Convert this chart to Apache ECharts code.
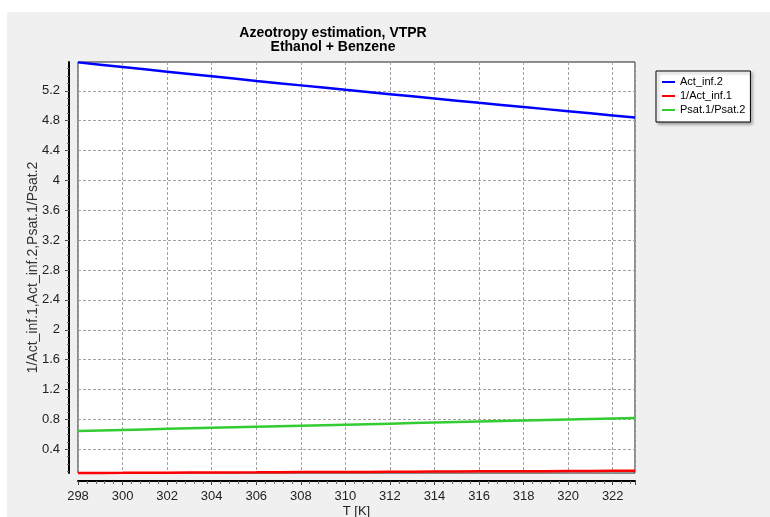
<!DOCTYPE html>
<html><head><meta charset="utf-8">
<script src="https://cdn.jsdelivr.net/npm/echarts@6/dist/echarts.min.js"></script>
<style>html,body{margin:0;padding:0;background:#fff}#c{width:770px;height:517px}</style>
</head><body><div id="c"></div>
<script>
// ---- data ----
const temperature = [298,299,300,301,302,303,304,305,306,307,308,309,310,311,312,313,314,315,316,317,318,319,320,321,322,323];
const actInf2 = [5.580,5.549,5.518,5.487,5.456,5.425,5.394,5.363,5.332,5.302,5.272,5.242,5.212,5.183,5.154,5.125,5.096,5.067,5.038,5.010,4.982,4.954,4.926,4.898,4.870,4.842];
const invActInf1 = [0.082,0.083,0.084,0.0855,0.087,0.088,0.089,0.090,0.091,0.093,0.094,0.095,0.096,0.097,0.099,0.100,0.101,0.102,0.104,0.105,0.106,0.107,0.109,0.110,0.111,0.112];
const psatRatio = [0.645,0.652,0.659,0.666,0.673,0.680,0.687,0.694,0.701,0.708,0.715,0.722,0.729,0.736,0.743,0.750,0.757,0.764,0.771,0.778,0.785,0.792,0.799,0.806,0.813,0.820];
const seriesNames = ['Act_inf.2', '1/Act_inf.1', 'Psat.1/Psat.2'];
const seriesColors = ['#0000ff', '#ff0000', '#33cc33'];
const yTickValues = [0.4,0.8,1.2,1.6,2,2.4,2.8,3.2,3.6,4,4.4,4.8,5.2];
const xTickLabels = [298,300,302,304,306,308,310,312,314,316,318,320,322];
const titleLines = ['Azeotropy estimation, VTPR', 'Ethanol + Benzene'];
const yAxisName = '1/Act_inf.1,Act_inf.2,Psat.1/Psat.2';
const xAxisName = 'T [K]';
const yMin = 0.082, yMax = 5.585;
const xMin = 298, xMax = 323;

const yMinorTickValues = [];
for (let k = 1; k <= 55; k++) { yMinorTickValues.push(k / 10); }

const FONT = '"Liberation Sans", Arial, sans-serif';
const chart = echarts.init(document.getElementById('c'), null, {renderer: 'canvas'});

const seriesData = [actInf2, invActInf1, psatRatio];
const series = seriesNames.map((name, s) => ({
  name: name,
  type: 'line',
  showSymbol: false,
  xAxisIndex: 0,
  yAxisIndex: 0,
  data: temperature.map((t, i) => [t, seriesData[s][i]]),
  lineStyle: {color: seriesColors[s], width: 2.5},
  itemStyle: {color: seriesColors[s]},
  clip: false,
  animation: false
}));

const option = {
  animation: false,
  textStyle: {fontFamily: FONT},
  graphic: [
    {type: 'rect', z: -100, silent: true, shape: {x: 7, y: 12, width: 763, height: 505}, style: {fill: '#f0f0f0'}},
    {type: 'text', x: 333, y: 33, style: {text: titleLines[0], fontFamily: FONT, fontWeight: 'bold', fontSize: 14, fill: '#000', align: 'center', verticalAlign: 'middle'}},
    {type: 'text', x: 333, y: 47, style: {text: titleLines[1], fontFamily: FONT, fontWeight: 'bold', fontSize: 14, fill: '#000', align: 'center', verticalAlign: 'middle'}}
  ],
  grid: {left: 78, top: 62, right: 135, bottom: 44, show: true, backgroundColor: '#fff', borderColor: '#222', borderWidth: 1, containLabel: false, outerBoundsMode: 'none'},
  legend: {
    orient: 'vertical', left: 656, top: 71,
    data: seriesNames,
    backgroundColor: '#fff', borderColor: '#000', borderWidth: 1,
    padding: [4, 5, 5, 6],
    itemWidth: 13, itemHeight: 2, itemGap: 0, itemTextGap: 4,
    icon: 'rect',
    textStyle: {fontSize: 11, color: '#000', lineHeight: 14, fontFamily: FONT},
    shadowBlur: 3, shadowColor: 'rgba(0,0,0,0.35)', shadowOffsetX: 2, shadowOffsetY: 2
  },
  xAxis: {
    type: 'value', min: xMin, max: xMax, interval: 2,
    position: 'bottom', offset: 8,
    name: xAxisName, nameLocation: 'middle', nameGap: 24, nameMoveOverlap: false,
    nameTextStyle: {fontSize: 13, color: '#222', fontFamily: FONT},
    axisLine: {show: true, onZero: false, lineStyle: {color: '#000', width: 2}},
    axisTick: {show: true, length: 4, lineStyle: {color: '#444'}},
    minorTick: {show: true, splitNumber: 5, length: 3, lineStyle: {color: '#666'}},
    axisLabel: {margin: 9, fontSize: 13, color: '#222', showMaxLabel: false,
      formatter: v => (xTickLabels.indexOf(v) >= 0 ? String(v) : '')},
    splitLine: {show: true, lineStyle: {type: [3, 2], color: '#a0a0a0', width: 1}}
  },
  yAxis: [
    {
      type: 'value', min: yMin, max: yMax, position: 'left', offset: 9,
      name: yAxisName, nameLocation: 'middle', nameGap: 29, nameMoveOverlap: false,
      nameTextStyle: {fontSize: 14, color: '#333', fontFamily: FONT},
      axisLine: {show: true, onZero: false, lineStyle: {color: '#000', width: 2}},
      axisTick: {show: true, length: 4, customValues: yTickValues, lineStyle: {color: '#444'}},
      axisLabel: {margin: 9, fontSize: 13, color: '#222', customValues: yTickValues},
      splitLine: {show: true, lineStyle: {type: [3, 2], color: '#a0a0a0', width: 1}}
    },
    {
      type: 'value', min: yMin, max: yMax, position: 'left', offset: 9,
      axisLine: {show: false, onZero: false},
      axisTick: {show: true, length: 2, customValues: yMinorTickValues, lineStyle: {color: '#666'}},
      axisLabel: {show: false},
      splitLine: {show: false}
    }
  ],
  series: series
};
chart.setOption(option);
</script>
</body></html>
